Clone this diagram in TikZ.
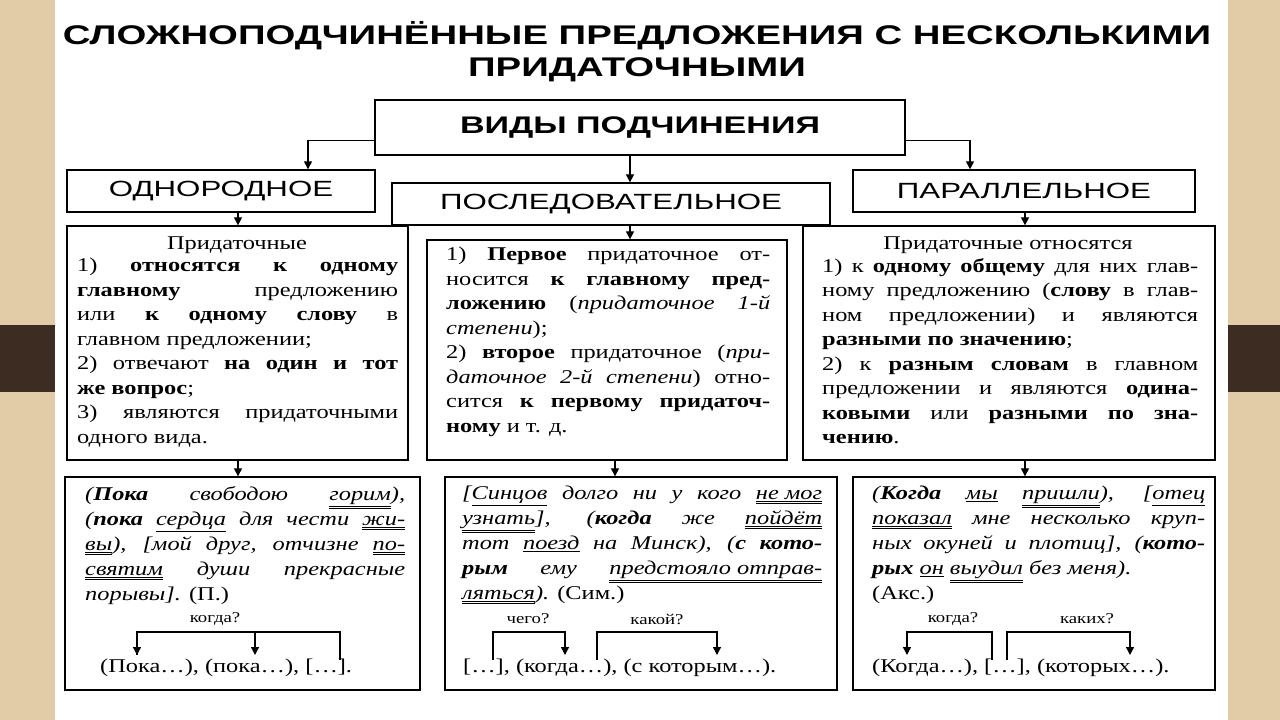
\documentclass[tikz,border=0pt]{standalone}
\usepackage{fontspec}
\setmainfont[FakeStretch=1.25]{Liberation Serif}
\newfontfamily\hfont[FakeStretch=1.42]{Liberation Sans}
\newcommand\sul[1]{\underline{#1}}
\newcommand\dul[1]{\underline{\underline{#1}}}
\usetikzlibrary{arrows.meta,calc}
\begin{document}
\begin{tikzpicture}[x=1pt,y=-1pt,
  box/.style={draw,line width=1.4pt,fill=white,inner sep=0pt},
  arr/.style={line width=1.3pt,-{Triangle[width=8pt,length=8pt]}},
  ln/.style={line width=1.3pt},
  body/.style={anchor=north west,inner sep=0pt,align=justify,font=\fontsize{19.5}{24.5}\selectfont},
  ex/.style={body,font=\fontsize{19.5}{25}\selectfont\itshape},
  q/.style={inner sep=0pt,font=\fontsize{15}{16}\selectfont},
  sch/.style={inner sep=0pt,anchor=west,font=\fontsize{19.5}{22}\selectfont},
  cat/.style={box,font=\hfont\fontsize{22}{24}\selectfont}]
\useasboundingbox (0,0) rectangle (1280,720);
\fill[fill={rgb,255:red,226;green,204;blue,168}] (0,0) rectangle (1280,720);
\fill[fill={rgb,255:red,60;green,44;blue,34}] (0,325) rectangle (1280,392);
\fill[white] (55,0) rectangle (1228,720);
\node[font=\hfont\bfseries\fontsize{27}{32}\selectfont,align=center] (title) at (637,52) {СЛОЖНОПОДЧИНЁННЫЕ ПРЕДЛОЖЕНИЯ С НЕСКОЛЬКИМИ\\ПРИДАТОЧНЫМИ};
\node[box,minimum width=530,minimum height=55,font=\hfont\bfseries\fontsize{24}{26}\selectfont] (vid) at (640,127.5) {ВИДЫ ПОДЧИНЕНИЯ};
\node[cat,minimum width=308,minimum height=42] (odn) at (221,191) {ОДНОРОДНОЕ};
\node[cat,minimum width=438,minimum height=42] (pos) at (611,204) {ПОСЛЕДОВАТЕЛЬНОЕ};
\node[cat,minimum width=342,minimum height=42] (par) at (1024,191) {ПАРАЛЛЕЛЬНОЕ};
\node[box,minimum width=341,minimum height=234] (b1) at (237.5,343) {};
\node[box,minimum width=360,minimum height=220] (b2) at (607,350) {};
\node[box,minimum width=412,minimum height=234] (b3) at (1009,343) {};
\node[box,minimum width=355,minimum height=213] (b4) at (242.5,583.5) {};
\node[box,minimum width=392,minimum height=213] (b5) at (641,583.5) {};
\node[box,minimum width=362,minimum height=213] (b6) at (1034,583.5) {};
% connectors
\draw[arr] ($(vid.west)+(0,13)$) -| (odn.north -| 308,0);
\draw[arr] ($(vid.east)+(0,13)$) -| (par.north -| 970,0);
\draw[arr] (vid.south -| 630,0) -- (pos.north -| 630,0);
\draw[arr] (odn.south -| 238,0) -- (b1.north -| 238,0);
\draw[arr] (pos.south -| 630,0) -- (b2.north -| 630,0);
\draw[arr] (par.south -| 1025,0) -- (b3.north -| 1025,0);
\draw[arr] (b1.south -| 238,0) -- (b4.north -| 238,0);
\draw[arr] (b2.south -| 615,0) -- (b5.north -| 615,0);
\draw[arr] (b3.south -| 1025,0) -- (b6.north -| 1025,0);
% box 1
\node[inner sep=0pt,font=\fontsize{19.5}{24.5}\selectfont] (t1h) at (237,245) {Придаточные};
\node[body,text width=321] (t1) at (77,258) {1) \textbf{относятся к одному}\linebreak
\textbf{главному} предложению\linebreak
или \textbf{к одному слову} в\linebreak
главном предложении;\\
2) отвечают \textbf{на один и тот}\linebreak
\textbf{же вопрос};\\
3) являются придаточными\linebreak
одного вида.};
% box 2
\node[body,text width=324] (t2) at (446,247) {1) \textbf{Первое} придаточное от-\linebreak
носится \textbf{к главному пред-}\linebreak
\textbf{ложению} (\textit{придаточное 1-й}\linebreak
\textit{степени});\\
2) \textbf{второе} придаточное (\textit{при-}\linebreak
\textit{даточное 2-й степени}) отно-\linebreak
сится \textbf{к первому придаточ-}\linebreak
\textbf{ному} и т. д.};
% box 3
\node[inner sep=0pt,font=\fontsize{19.5}{24.5}\selectfont] (t3h) at (1008,245) {Придаточные относятся};
\node[body,text width=376] (t3) at (822,258) {1) к \textbf{одному общему} для них глав-\linebreak
ному предложению (\textbf{слову} в глав-\linebreak
ном предложении) и являются\linebreak
\textbf{разными по значению};\\
2) к \textbf{разным словам} в главном\linebreak
предложении и являются \textbf{одина-}\linebreak
\textbf{ковыми} или \textbf{разными по зна-}\linebreak
\textbf{чению}.};
% box 4
\node[ex,text width=320] (t4) at (85,486) {(\textbf{Пока} свободою \dul{горим}),\linebreak
(\textbf{пока} \sul{сердца} для чести \dul{жи-}\linebreak
\dul{вы}), [мой друг, отчизне \dul{по-}\linebreak
\dul{святим} души прекрасные\linebreak
порывы]. \textup{(П.)}};
\node[q] (q4) at (215,619) {когда?};
\node[sch] (s4) at (100,668) {(Пока…), (пока…), […].};
\coordinate (c4a) at (137,655); \coordinate (c4b) at (255,655); \coordinate (c4c) at (340,660);
\draw[ln] (c4c) -- (c4c |- 0,632) -| (c4a); \draw[arr] (c4a |- 0,632) -- (c4a);
\draw[arr] (c4b |- 0,632) -- (c4b);
% box 5
\node[ex,text width=360] (t5) at (462,486) {[\sul{Синцов} долго ни у кого \dul{не мог}\linebreak
\dul{узнать}], (\textbf{когда} же \dul{пойдёт}\linebreak
тот \sul{поезд} на Минск), (\textbf{с кото-}\linebreak
\textbf{рым} ему \dul{предстояло отправ-}\linebreak
\dul{ляться}). \textup{(Сим.)}};
\node[q] (q5a) at (528,619) {чего?};
\node[q] (q5b) at (657,619) {какой?};
\node[sch] (s5) at (463,668) {[…], (когда…), (с которым…).};
\coordinate (c5a) at (493,660); \coordinate (c5b) at (565,655);
\coordinate (c5c) at (597,660); \coordinate (c5d) at (717,655);
\draw[arr] (c5a) |- (c5b |- 0,632) -- (c5b);
\draw[arr] (c5c) |- (c5d |- 0,632) -- (c5d);
% box 6
\node[ex,text width=333] (t6) at (872,486) {(\textbf{Когда} \sul{мы} \dul{пришли}), [\sul{отец}\linebreak
\dul{показал} мне несколько круп-\linebreak
ных окуней и плотиц], (\textbf{кото-}\linebreak
\textbf{рых} \sul{он} \dul{выудил} без меня).\\
\textup{(Акс.)}};
\node[q] (q6a) at (953,619) {когда?};
\node[q] (q6b) at (1087,619) {каких?};
\node[sch] (s6) at (872,668) {(Когда…), […], (которых…).};
\coordinate (c6a) at (907,655); \coordinate (c6b) at (992,660);
\coordinate (c6c) at (1007,660); \coordinate (c6d) at (1130,655);
\draw[arr] (c6b) |- (c6a |- 0,632) -- (c6a);
\draw[arr] (c6c) |- (c6d |- 0,632) -- (c6d);
\end{tikzpicture}
\end{document}
